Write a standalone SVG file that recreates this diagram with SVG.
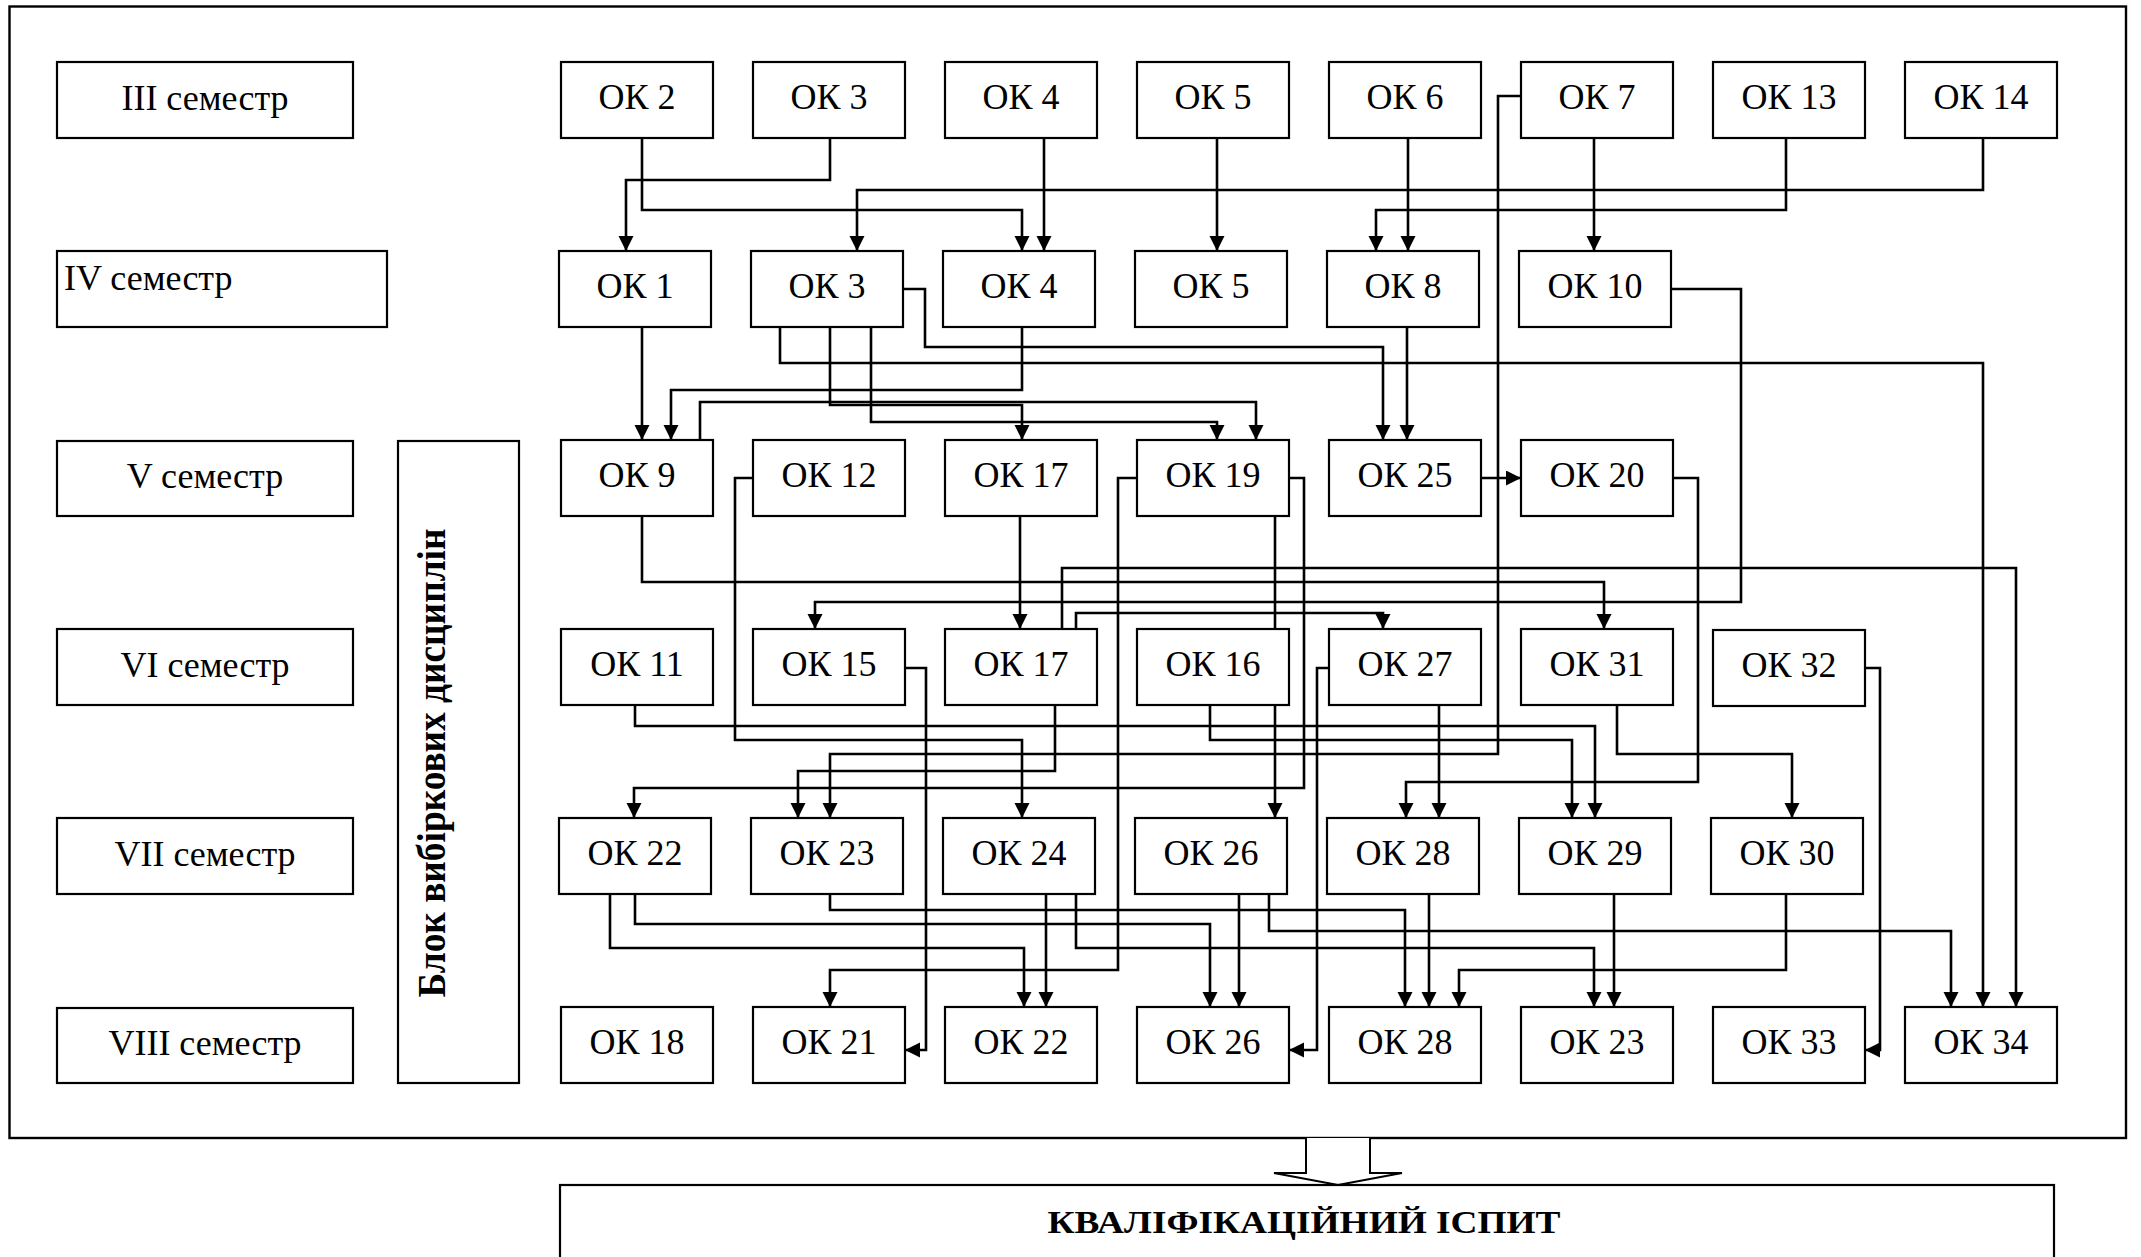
<svg xmlns="http://www.w3.org/2000/svg" width="2141" height="1257" viewBox="0 0 2141 1257">
<defs>
<style>
.box{fill:#fff;stroke:#000;stroke-width:2.2}
.t{font-family:"Liberation Serif","Times New Roman",serif;font-size:36px;text-anchor:middle;fill:#000}
.c{fill:none;stroke:#000;stroke-width:2.6;marker-end:url(#ah)}
</style>
<marker id="ah" markerUnits="userSpaceOnUse" markerWidth="16" markerHeight="16" refX="15" refY="7.5" orient="auto"><path d="M0,0 L15,7.5 L0,15 z" fill="#000"/></marker>
</defs>
<rect width="2141" height="1257" fill="#fff"/>
<rect x="9.5" y="6.5" width="2116.5" height="1131.5" fill="none" stroke="#000" stroke-width="2.4"/>

<g id="semesters">
<g id="sem-3"><rect class="box" x="57" y="62" width="296" height="76"/><text class="t" x="205" y="110">III семестр</text></g>
<g id="sem-4"><rect class="box" x="57" y="251" width="330" height="76"/><text class="t" x="64" y="290" style="text-anchor:start">IV семестр</text></g>
<g id="sem-5"><rect class="box" x="57" y="441" width="296" height="75"/><text class="t" x="205" y="488">V семестр</text></g>
<g id="sem-6"><rect class="box" x="57" y="629" width="296" height="76"/><text class="t" x="205" y="677">VI семестр</text></g>
<g id="sem-7"><rect class="box" x="57" y="818" width="296" height="76"/><text class="t" x="205" y="866">VII семестр</text></g>
<g id="sem-8"><rect class="box" x="57" y="1008" width="296" height="75"/><text class="t" x="205" y="1055">VIII семестр</text></g>
</g>

<g id="block-elective"><rect class="box" x="398" y="441" width="121" height="642"/><text class="t" transform="translate(445,763) rotate(-90)" x="0" y="0" style="font-weight:bold;font-size:39px" textLength="469" lengthAdjust="spacingAndGlyphs">Блок вибіркових дисциплін</text></g>

<g id="connectors">
<path class="c" d="M642,138 V210 H1022 V251"/>
<path class="c" d="M830,138 V180 H626 V251"/>
<path class="c" d="M1044,138 V251"/>
<path class="c" d="M1983,138 V190 H857 V251"/>
<path class="c" d="M1217,138 V251"/>
<path class="c" d="M1408,138 V251"/>
<path class="c" d="M1786,138 V210 H1376 V251"/>
<path class="c" d="M1594,138 V251"/>
<path class="c" d="M1521,96 H1498 V754 H830 V818"/>
<path class="c" d="M642,327 V440"/>
<path class="c" d="M1022,327 V390 H671 V440"/>
<path class="c" d="M903,289 H925 V347 H1383 V440"/>
<path class="c" d="M780,327 V363 H1983 V1007"/>
<path class="c" d="M830,327 V405 H1022 V440"/>
<path class="c" d="M871,327 V422 H1217 V440"/>
<path class="c" d="M1407,327 V440"/>
<path class="c" d="M1670,289 H1741 V602 H815 V629"/>
<path class="c" d="M700,440 V402 H1256 V440"/>
<path class="c" d="M642,516 V582 H1604 V629"/>
<path class="c" d="M753,478 H735 V740 H1022 V818"/>
<path class="c" d="M1020,516 V629"/>
<path class="c" d="M1137,478 H1118 V970 H830 V1007"/>
<path class="c" d="M1289,478 H1304 V788 H634 V818"/>
<path class="c" d="M1275,516 V818"/>
<path class="c" d="M1481,478 H1521"/>
<path class="c" d="M1673,478 H1698 V782 H1406 V818"/>
<path class="c" d="M1062,629 V568 H2016 V1007"/>
<path class="c" d="M1076,629 V613 H1383 V629"/>
<path class="c" d="M635,705 V726 H1595 V818"/>
<path class="c" d="M905,668 H926 V1050 H905"/>
<path class="c" d="M1055,705 V771 H798 V818"/>
<path class="c" d="M1210,705 V740 H1572 V818"/>
<path class="c" d="M1329,668 H1317 V1050 H1289"/>
<path class="c" d="M1439,705 V818"/>
<path class="c" d="M1617,705 V754 H1792 V818"/>
<path class="c" d="M1865,668 H1880 V1050 H1865"/>
<path class="c" d="M635,894 V924 H1210 V1007"/>
<path class="c" d="M610,894 V948 H1024 V1007"/>
<path class="c" d="M830,894 V910 H1405 V1007"/>
<path class="c" d="M1046,894 V1007"/>
<path class="c" d="M1076,894 V948 H1594 V1007"/>
<path class="c" d="M1239,894 V1007"/>
<path class="c" d="M1269,894 V931 H1951 V1007"/>
<path class="c" d="M1429,894 V1007"/>
<path class="c" d="M1614,894 V1007"/>
<path class="c" d="M1786,894 V970 H1459 V1007"/>
</g>

<g id="row-3">
<g id="r3-ok2"><rect class="box" x="561" y="62" width="152" height="76"/><text class="t" x="637" y="109">ОК 2</text></g>
<g id="r3-ok3"><rect class="box" x="753" y="62" width="152" height="76"/><text class="t" x="829" y="109">ОК 3</text></g>
<g id="r3-ok4"><rect class="box" x="945" y="62" width="152" height="76"/><text class="t" x="1021" y="109">ОК 4</text></g>
<g id="r3-ok5"><rect class="box" x="1137" y="62" width="152" height="76"/><text class="t" x="1213" y="109">ОК 5</text></g>
<g id="r3-ok6"><rect class="box" x="1329" y="62" width="152" height="76"/><text class="t" x="1405" y="109">ОК 6</text></g>
<g id="r3-ok7"><rect class="box" x="1521" y="62" width="152" height="76"/><text class="t" x="1597" y="109">ОК 7</text></g>
<g id="r3-ok13"><rect class="box" x="1713" y="62" width="152" height="76"/><text class="t" x="1789" y="109">ОК 13</text></g>
<g id="r3-ok14"><rect class="box" x="1905" y="62" width="152" height="76"/><text class="t" x="1981" y="109">ОК 14</text></g>
</g>

<g id="row-4">
<g id="r4-ok1"><rect class="box" x="559" y="251" width="152" height="76"/><text class="t" x="635" y="298">ОК 1</text></g>
<g id="r4-ok3"><rect class="box" x="751" y="251" width="152" height="76"/><text class="t" x="827" y="298">ОК 3</text></g>
<g id="r4-ok4"><rect class="box" x="943" y="251" width="152" height="76"/><text class="t" x="1019" y="298">ОК 4</text></g>
<g id="r4-ok5"><rect class="box" x="1135" y="251" width="152" height="76"/><text class="t" x="1211" y="298">ОК 5</text></g>
<g id="r4-ok8"><rect class="box" x="1327" y="251" width="152" height="76"/><text class="t" x="1403" y="298">ОК 8</text></g>
<g id="r4-ok10"><rect class="box" x="1519" y="251" width="152" height="76"/><text class="t" x="1595" y="298">ОК 10</text></g>
</g>

<g id="row-5">
<g id="r5-ok9"><rect class="box" x="561" y="440" width="152" height="76"/><text class="t" x="637" y="487">ОК 9</text></g>
<g id="r5-ok12"><rect class="box" x="753" y="440" width="152" height="76"/><text class="t" x="829" y="487">ОК 12</text></g>
<g id="r5-ok17"><rect class="box" x="945" y="440" width="152" height="76"/><text class="t" x="1021" y="487">ОК 17</text></g>
<g id="r5-ok19"><rect class="box" x="1137" y="440" width="152" height="76"/><text class="t" x="1213" y="487">ОК 19</text></g>
<g id="r5-ok25"><rect class="box" x="1329" y="440" width="152" height="76"/><text class="t" x="1405" y="487">ОК 25</text></g>
<g id="r5-ok20"><rect class="box" x="1521" y="440" width="152" height="76"/><text class="t" x="1597" y="487">ОК 20</text></g>
</g>

<g id="row-6">
<g id="r6-ok11"><rect class="box" x="561" y="629" width="152" height="76"/><text class="t" x="637" y="676">ОК 11</text></g>
<g id="r6-ok15"><rect class="box" x="753" y="629" width="152" height="76"/><text class="t" x="829" y="676">ОК 15</text></g>
<g id="r6-ok17"><rect class="box" x="945" y="629" width="152" height="76"/><text class="t" x="1021" y="676">ОК 17</text></g>
<g id="r6-ok16"><rect class="box" x="1137" y="629" width="152" height="76"/><text class="t" x="1213" y="676">ОК 16</text></g>
<g id="r6-ok27"><rect class="box" x="1329" y="629" width="152" height="76"/><text class="t" x="1405" y="676">ОК 27</text></g>
<g id="r6-ok31"><rect class="box" x="1521" y="629" width="152" height="76"/><text class="t" x="1597" y="676">ОК 31</text></g>
<g id="r6-ok32"><rect class="box" x="1713" y="630" width="152" height="76"/><text class="t" x="1789" y="677">ОК 32</text></g>
</g>

<g id="row-7">
<g id="r7-ok22"><rect class="box" x="559" y="818" width="152" height="76"/><text class="t" x="635" y="865">ОК 22</text></g>
<g id="r7-ok23"><rect class="box" x="751" y="818" width="152" height="76"/><text class="t" x="827" y="865">ОК 23</text></g>
<g id="r7-ok24"><rect class="box" x="943" y="818" width="152" height="76"/><text class="t" x="1019" y="865">ОК 24</text></g>
<g id="r7-ok26"><rect class="box" x="1135" y="818" width="152" height="76"/><text class="t" x="1211" y="865">ОК 26</text></g>
<g id="r7-ok28"><rect class="box" x="1327" y="818" width="152" height="76"/><text class="t" x="1403" y="865">ОК 28</text></g>
<g id="r7-ok29"><rect class="box" x="1519" y="818" width="152" height="76"/><text class="t" x="1595" y="865">ОК 29</text></g>
<g id="r7-ok30"><rect class="box" x="1711" y="818" width="152" height="76"/><text class="t" x="1787" y="865">ОК 30</text></g>
</g>

<g id="row-8">
<g id="r8-ok18"><rect class="box" x="561" y="1007" width="152" height="76"/><text class="t" x="637" y="1054">ОК 18</text></g>
<g id="r8-ok21"><rect class="box" x="753" y="1007" width="152" height="76"/><text class="t" x="829" y="1054">ОК 21</text></g>
<g id="r8-ok22"><rect class="box" x="945" y="1007" width="152" height="76"/><text class="t" x="1021" y="1054">ОК 22</text></g>
<g id="r8-ok26"><rect class="box" x="1137" y="1007" width="152" height="76"/><text class="t" x="1213" y="1054">ОК 26</text></g>
<g id="r8-ok28"><rect class="box" x="1329" y="1007" width="152" height="76"/><text class="t" x="1405" y="1054">ОК 28</text></g>
<g id="r8-ok23"><rect class="box" x="1521" y="1007" width="152" height="76"/><text class="t" x="1597" y="1054">ОК 23</text></g>
<g id="r8-ok33"><rect class="box" x="1713" y="1007" width="152" height="76"/><text class="t" x="1789" y="1054">ОК 33</text></g>
<g id="r8-ok34"><rect class="box" x="1905" y="1007" width="152" height="76"/><text class="t" x="1981" y="1054">ОК 34</text></g>
</g>

<g id="exam-arrow"><path d="M1306,1138 V1173 H1274 L1338,1185 L1402,1173 H1370 V1138" fill="#fff" stroke="#000" stroke-width="2"/></g>
<g id="exam"><rect class="box" x="560" y="1185" width="1494" height="90"/><text class="t" x="1304" y="1233" style="font-weight:bold;font-size:32px" textLength="513" lengthAdjust="spacingAndGlyphs">КВАЛІФІКАЦІЙНИЙ ІСПИТ</text></g>
</svg>
